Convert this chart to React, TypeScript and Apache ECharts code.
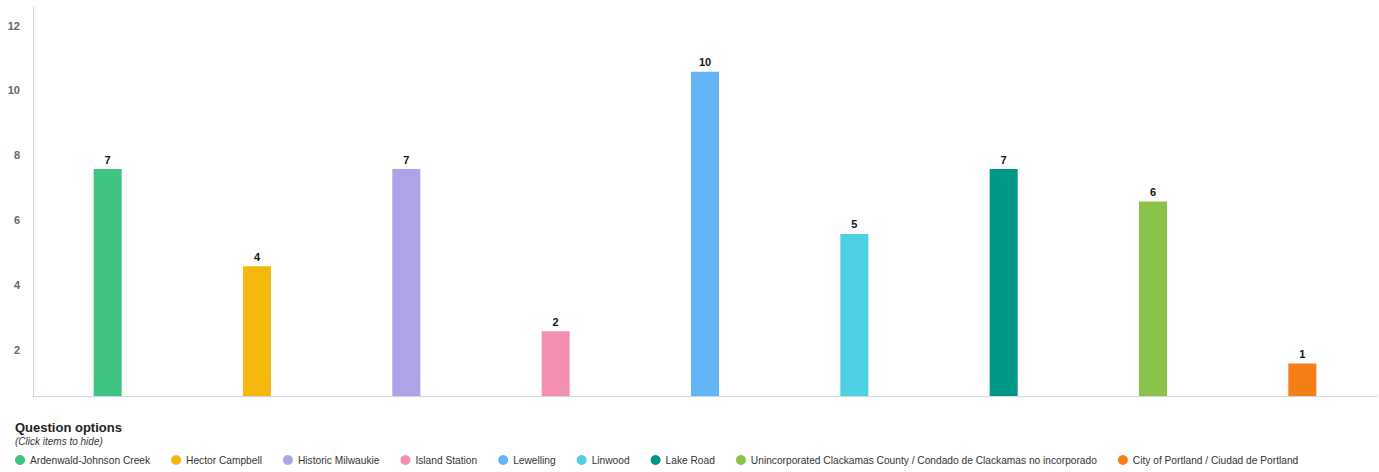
import React, { useEffect, useRef } from "react";
import * as echarts from "echarts";

const categories = [
  "Ardenwald-Johnson Creek",
  "Hector Campbell",
  "Historic Milwaukie",
  "Island Station",
  "Lewelling",
  "Linwood",
  "Lake Road",
  "Unincorporated Clackamas County / Condado de Clackamas no incorporado",
  "City of Portland / Ciudad de Portland",
];
const values = [7, 4, 7, 2, 10, 5, 7, 6, 1];
const colors = [
  "#3fc380",
  "#f4b80f",
  "#ada3e6",
  "#f48fb1",
  "#64b5f6",
  "#4dd0e1",
  "#009688",
  "#8bc34a",
  "#f57f17",
];
const yTicks = { min: 0, max: 12, interval: 2 };
const legendTitle = "Question options";
const legendSubtitle = "(Click items to hide)";

export default function App() {
  const ref = useRef<HTMLDivElement>(null);
  useEffect(() => {
    if (!ref.current) return;
    const chart = echarts.init(ref.current, undefined, { renderer: "svg" });
    const font = "'Liberation Sans', Arial, sans-serif";
    const series = categories.map((name, i) => ({
      name,
      type: "bar" as const,
      barWidth: 28,
      barGap: "-100%",
      itemStyle: { color: colors[i] },
      label: {
        show: true,
        position: "top" as const,
        distance: 4,
        fontWeight: "bold" as const,
        fontSize: 11,
        color: "#111",
        fontFamily: font,
      },
      data: categories.map((_, j) => (j === i ? values[i] : null)),
    }));
    chart.setOption({
      animation: false,
      textStyle: { fontFamily: font },
      grid: { left: 33, right: 2, top: 7, bottom: 76 },
      xAxis: {
        type: "category",
        data: categories,
        axisLine: { show: true, lineStyle: { color: "#ccd6eb", width: 1 } },
        axisTick: { show: false },
        axisLabel: { show: false },
        splitLine: { show: false },
      },
      yAxis: {
        type: "value",
        min: yTicks.min,
        max: yTicks.max,
        interval: yTicks.interval,
        axisLine: { show: true, lineStyle: { color: "#ccd6eb", width: 1 } },
        axisTick: { show: false },
        splitLine: { show: false },
        axisLabel: {
          showMinLabel: false,
          color: "#666",
          fontWeight: "bold",
          fontSize: 11,
          margin: 13,
          verticalAlign: "top",
          padding: [13, 0, 0, 0],
          fontFamily: font,
        },
      },
      legend: {
        left: 10,
        top: 450,
        width: 1369,
        icon: "circle",
        itemWidth: 10,
        itemHeight: 10,
        itemGap: 21,
        textStyle: { fontSize: 10.2, color: "#333", fontFamily: font },
        data: categories,
      },
      graphic: [
        {
          type: "text",
          left: 15,
          top: 421,
          style: {
            text: legendTitle,
            fontSize: 13,
            fontWeight: "bold",
            fill: "#222",
            fontFamily: font,
          },
        },
        {
          type: "text",
          left: 15,
          top: 436,
          style: {
            text: legendSubtitle,
            fontSize: 10,
            fontStyle: "italic",
            fill: "#333",
            fontFamily: font,
          },
        },
      ],
      series,
    });
    return () => chart.dispose();
  }, []);
  return (
    <div
      ref={ref}
      style={{ position: "absolute", left: 0, top: 0, width: 1379, height: 472 }}
    />
  );
}
